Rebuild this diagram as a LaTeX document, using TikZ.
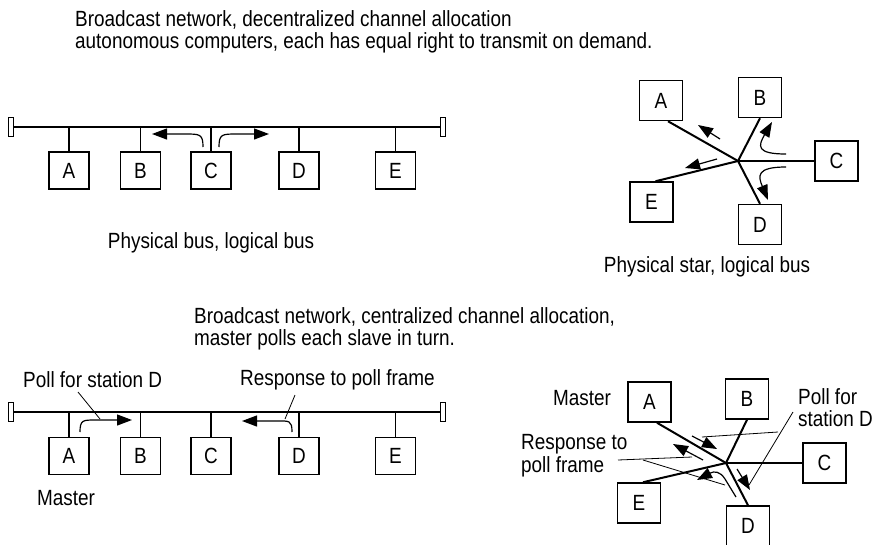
\documentclass[tikz,border=0pt]{standalone}
\usepackage{fontspec}
\setmainfont{Liberation Sans}[FakeStretch=0.86]
\usetikzlibrary{arrows.meta,calc}
\begin{document}
\begin{tikzpicture}[x=1pt,y=-1pt,
  every node/.style={font=\fontsize{22}{24}\selectfont},
  box/.style={draw, line width=1.5pt, minimum width=40pt, minimum height=37pt, inner sep=0pt},
  sbox/.style={draw, line width=1.5pt, minimum width=43pt, minimum height=40pt, inner sep=0pt},
  endcap/.style={draw, line width=1.1pt, minimum width=5pt, minimum height=19pt, inner sep=0pt},
  wire/.style={line width=1.5pt},
  swire/.style={line width=2pt},
  arr/.style={line width=1.2pt, -{Triangle[length=15pt,width=11pt]}},
  leader/.style={line width=0.8pt},
  lbl/.style={inner sep=0pt, anchor=west},
]
\useasboundingbox (0,0) rectangle (875,544);

% ---------- titles ----------
\node[lbl] (t1) at (75,20) {Broadcast network, decentralized channel allocation};
\node[lbl] (t2) at (75,43) {autonomous computers, each has equal right to transmit on demand.};

% ---------- top bus ----------
\node[endcap] (capL1) at (11,127) {};
\node[endcap] (capR1) at (443,127) {};
\draw[wire] (capL1) -- (capR1);
\node[box] (A1) at (69,170.5) {A};
\node[box] (B1) at (140.5,170.5) {B};
\node[box] (C1) at (211,170.5) {C};
\node[box] (D1) at (299,170.5) {D};
\node[box] (E1) at (395.5,170.5) {E};
\foreach \n in {A1,B1,C1,D1,E1}
  \draw[wire] (\n.north) -- (\n.north |- capL1.center);
\draw[arr] (203,147) .. controls (203,134) and (200,134) .. (185,134) -- (152,134);
\draw[arr] (219,147) .. controls (219,134) and (222,134) .. (237,134) -- (269,134);
\node (cap1) at (211,243) {Physical bus, logical bus};

% ---------- top star ----------
\coordinate (S) at (738,161);
\node[sbox] (A2) at (661,100.5) {A};
\node[sbox] (B2) at (760,97.5) {B};
\node[sbox] (C2) at (836.5,161) {C};
\node[sbox] (E2) at (651.5,202) {E};
\node[sbox] (D2) at (760,224.5) {D};
\draw[swire] ([xshift=7pt]A2.south) -- (S);
\draw[swire] (B2.south) -- (S);
\draw[swire] (S) -- (C2.west);
\draw[swire] ([xshift=4pt]E2.north) -- (S);
\draw[swire] (S) -- (D2.north);
\draw[arr] (720,139) -- (698,125);
\draw[arr] (717,159) -- (685,168);
\draw[arr] (786,154) .. controls (756,154) and (758,146) .. (772,122);
\draw[arr] (786,167) .. controls (756,167) and (758,176) .. (768,200);
\node (cap2) at (707,267) {Physical star, logical bus};

% ---------- second titles ----------
\node[lbl] (t3) at (194,317) {Broadcast network, centralized channel allocation,};
\node[lbl] (t4) at (194,340) {master polls each slave in turn.};

% ---------- bottom bus ----------
\node[endcap] (capL3) at (11,412) {};
\node[endcap] (capR3) at (443,412) {};
\draw[wire] (capL3) -- (capR3);
\node[box] (A3) at (69,456) {A};
\node[box] (B3) at (140.5,456) {B};
\node[box] (C3) at (211,456) {C};
\node[box] (D3) at (299,456) {D};
\node[box] (E3) at (395.5,456) {E};
\foreach \n in {A3,B3,C3,D3,E3}
  \draw[wire] (\n.north) -- (\n.north |- capL3.center);
\draw[arr] (80,432) .. controls (80,420) and (83,420) .. (95,420) -- (132,420);
\draw[arr] (292,432) .. controls (292,420) and (289,421) .. (277,421) -- (242,421);
\node[lbl] (poll3) at (23,380) {Poll for station D};
\node[lbl] (resp3) at (240,380) {Response to poll frame};
\node (m3) at (66,498) {Master};
\draw[leader] (78,392) -- (100,419);
\draw[leader] (295,395) -- (285,419);

% ---------- bottom star ----------
\coordinate (T) at (726,463);
\node[sbox] (A4) at (649.5,402) {A};
\node[sbox] (B4) at (747,399) {B};
\node[sbox] (C4) at (824.5,463) {C};
\node[sbox] (E4) at (639,503) {E};
\node[sbox] (D4) at (748,526) {D};
\draw[swire] ([xshift=7.5pt]A4.south) -- (T);
\draw[swire] (B4.south) -- (T);
\draw[swire] (T) -- (C4.west);
\draw[swire] ([xshift=4pt]E4.north) -- (T);
\draw[swire] (T) -- (D4.north);
\draw[arr] (692,436) -- (717,449);
\draw[leader] (702,437) -- (778,432);
\draw[leader] (793,412) -- (749,485);
\draw[arr] (737,469) -- (750,490);
\draw[arr] (703,460) -- (673,444);
\draw[leader] (618,460) -- (692,457);
\draw[leader] (643,460) -- (725,485);
\draw[arr] (736,497) -- (725,479) .. controls (720,471) and (714,471) .. (697,480);
\node[lbl] (m4) at (553,398) {Master};
\node[lbl] (poll4a) at (798,397) {Poll for};
\node[lbl] (poll4b) at (798,419) {station D};
\node[lbl] (resp4a) at (521,444) {Response to};
\node[lbl] (resp4b) at (521,467) {poll frame};
\end{tikzpicture}
\end{document}
